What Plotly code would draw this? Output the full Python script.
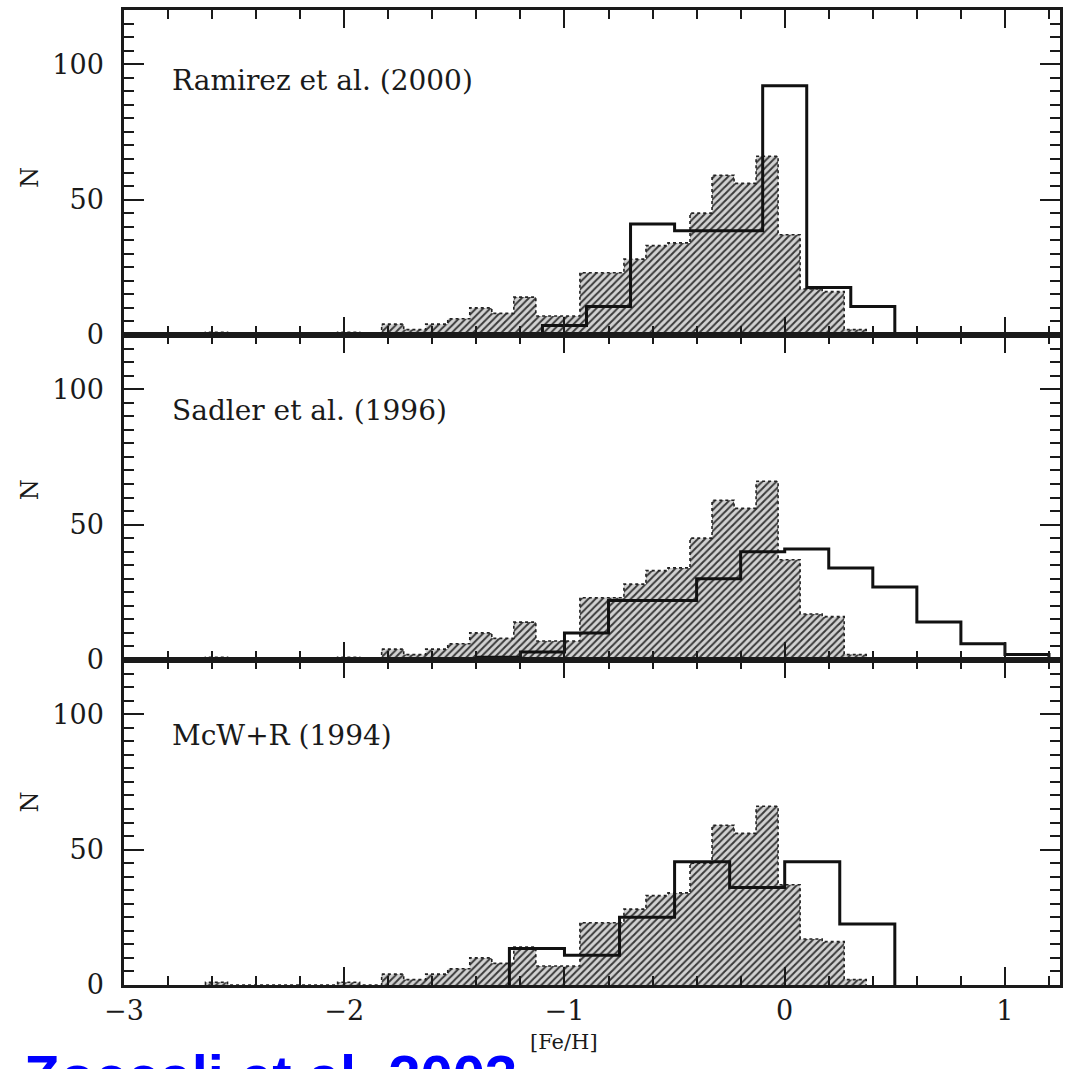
import plotly.graph_objects as go
from plotly.subplots import make_subplots

# Bulge sample [Fe/H] distribution (hatched histogram, 0.1 dex bins)
bulge_feh = [-2.58, -2.48, -2.38, -2.28, -2.18, -2.08, -1.98, -1.88, -1.78, -1.68,
             -1.58, -1.48, -1.38, -1.28, -1.18, -1.08, -0.98, -0.88, -0.78, -0.68,
             -0.58, -0.48, -0.38, -0.28, -0.18, -0.08, 0.02, 0.12, 0.22, 0.32]
bulge_n = [1, 0, 0, 0, 0, 0, 1, 0, 4, 2,
           4, 6, 10, 8, 14, 7, 7, 23, 23, 28,
           33, 34, 45, 59, 56, 66, 37, 17, 16, 2]
bulge_width = 0.1

# Comparison samples (open histograms)
ramirez_feh = [-1.0, -0.8, -0.6, -0.4, -0.2, 0.0, 0.2, 0.4]
ramirez_n = [3.5, 10.5, 41, 38.5, 38.5, 92, 17.5, 10.5]
ramirez_width = 0.2

sadler_feh = [-1.3, -1.1, -0.9, -0.7, -0.5, -0.3, -0.1, 0.1, 0.3, 0.5, 0.7, 0.9, 1.1]
sadler_n = [1, 3, 10, 22, 22, 30, 40, 41, 34, 27, 14, 6, 2]
sadler_width = 0.2

mcwr_feh = [-1.125, -0.875, -0.625, -0.375, -0.125, 0.125, 0.375]
mcwr_n = [13.5, 11, 25, 45.5, 36, 45.5, 22.5]
mcwr_width = 0.25

panel_labels = ["Ramirez et al. (2000)", "Sadler et al. (1996)", "McW+R (1994)"]
comparisons = [(ramirez_feh, ramirez_n, ramirez_width),
               (sadler_feh, sadler_n, sadler_width),
               (mcwr_feh, mcwr_n, mcwr_width)]

FONT = "DejaVu Serif"
INK = "#1a1a1a"


def step_outline(centres, counts, width):
    """Closed step outline (hv) of a histogram from its bin centres."""
    edges = [c - width / 2 for c in centres] + [centres[-1] + width / 2]
    xs = [edges[0]] + edges
    ys = [0] + list(counts) + [0]
    return xs, ys


fig = make_subplots(rows=3, cols=1, shared_xaxes=True, vertical_spacing=0)

bx, by = step_outline(bulge_feh, bulge_n, bulge_width)
label_y = [94, 92, 92]
for row, ((cf, cn, cw), label) in enumerate(zip(comparisons, panel_labels), start=1):
    fig.add_trace(go.Scatter(
        x=bx, y=by, mode="lines", line_shape="hv",
        line=dict(color="#222222", width=1.6, dash="dot"),
        fill="tozeroy",
        fillpattern=dict(shape="/", size=5, solidity=0.4,
                         fgcolor="#3a3a3a", bgcolor="#d2d2d2", fillmode="replace"),
        showlegend=False, hoverinfo="skip"), row=row, col=1)
    ox, oy = step_outline(cf, cn, cw)
    fig.add_trace(go.Scatter(
        x=ox, y=oy, mode="lines", line_shape="hv",
        line=dict(color="#111111", width=3),
        showlegend=False, hoverinfo="skip"), row=row, col=1)
    suffix = "" if row == 1 else str(row)
    fig.add_annotation(x=-2.79, y=label_y[row - 1], xref=f"x{suffix}",
                       yref=f"y{suffix}", text=label,
                       showarrow=False, xanchor="left", yanchor="middle",
                       font=dict(family=FONT, size=28, color=INK))

axis_common = dict(showline=True, linewidth=2.5, linecolor=INK, mirror="ticks",
                   ticks="inside", tickwidth=2, tickcolor=INK, showgrid=False,
                   zeroline=False, tickfont=dict(family=FONT, size=27, color=INK))

for row in range(1, 4):
    fig.update_xaxes(range=[-3, 1.25], tick0=-3, dtick=1, ticklen=18,
                     minor=dict(dtick=0.2, tick0=-3, ticklen=9, ticks="inside",
                                tickwidth=1.6, tickcolor=INK, showgrid=False),
                     showticklabels=(row == 3), ticklabelstandoff=0,
                     row=row, col=1, **axis_common)
    fig.update_yaxes(range=[0, 120], tick0=0, dtick=50, ticklen=20,
                     minor=dict(dtick=5, tick0=0, ticklen=10, ticks="inside",
                                tickwidth=1.6, tickcolor=INK, showgrid=False),
                     ticklabelstandoff=12, row=row, col=1, **axis_common)

# Y titles "N" for each panel
for row, yc in zip(range(1, 4), [0.833, 0.5, 0.167]):
    fig.add_annotation(x=-0.118, y=yc + 0.008, xref="paper", yref="paper", text="N",
                       textangle=-90, showarrow=False,
                       font=dict(family=FONT, size=24, color=INK))

fig.add_annotation(x=-1.0, y=-0.058, xref="x3", yref="paper", text="[Fe/H]",
                   showarrow=False, yanchor="middle",
                   font=dict(family=FONT, size=21, color=INK))

fig.add_annotation(x=-0.109, y=-0.0575, xref="paper", yref="paper",
                   text="<b>Zoccali et al. 2003</b>", showarrow=False,
                   xanchor="left", yanchor="top",
                   font=dict(family="Liberation Sans", size=58, color="#0000ff"))

fig.update_layout(width=1068, height=1069, margin=dict(l=124, r=5, t=10, b=84),
                  paper_bgcolor="white", plot_bgcolor="white")

fig.write_html("out.html")
